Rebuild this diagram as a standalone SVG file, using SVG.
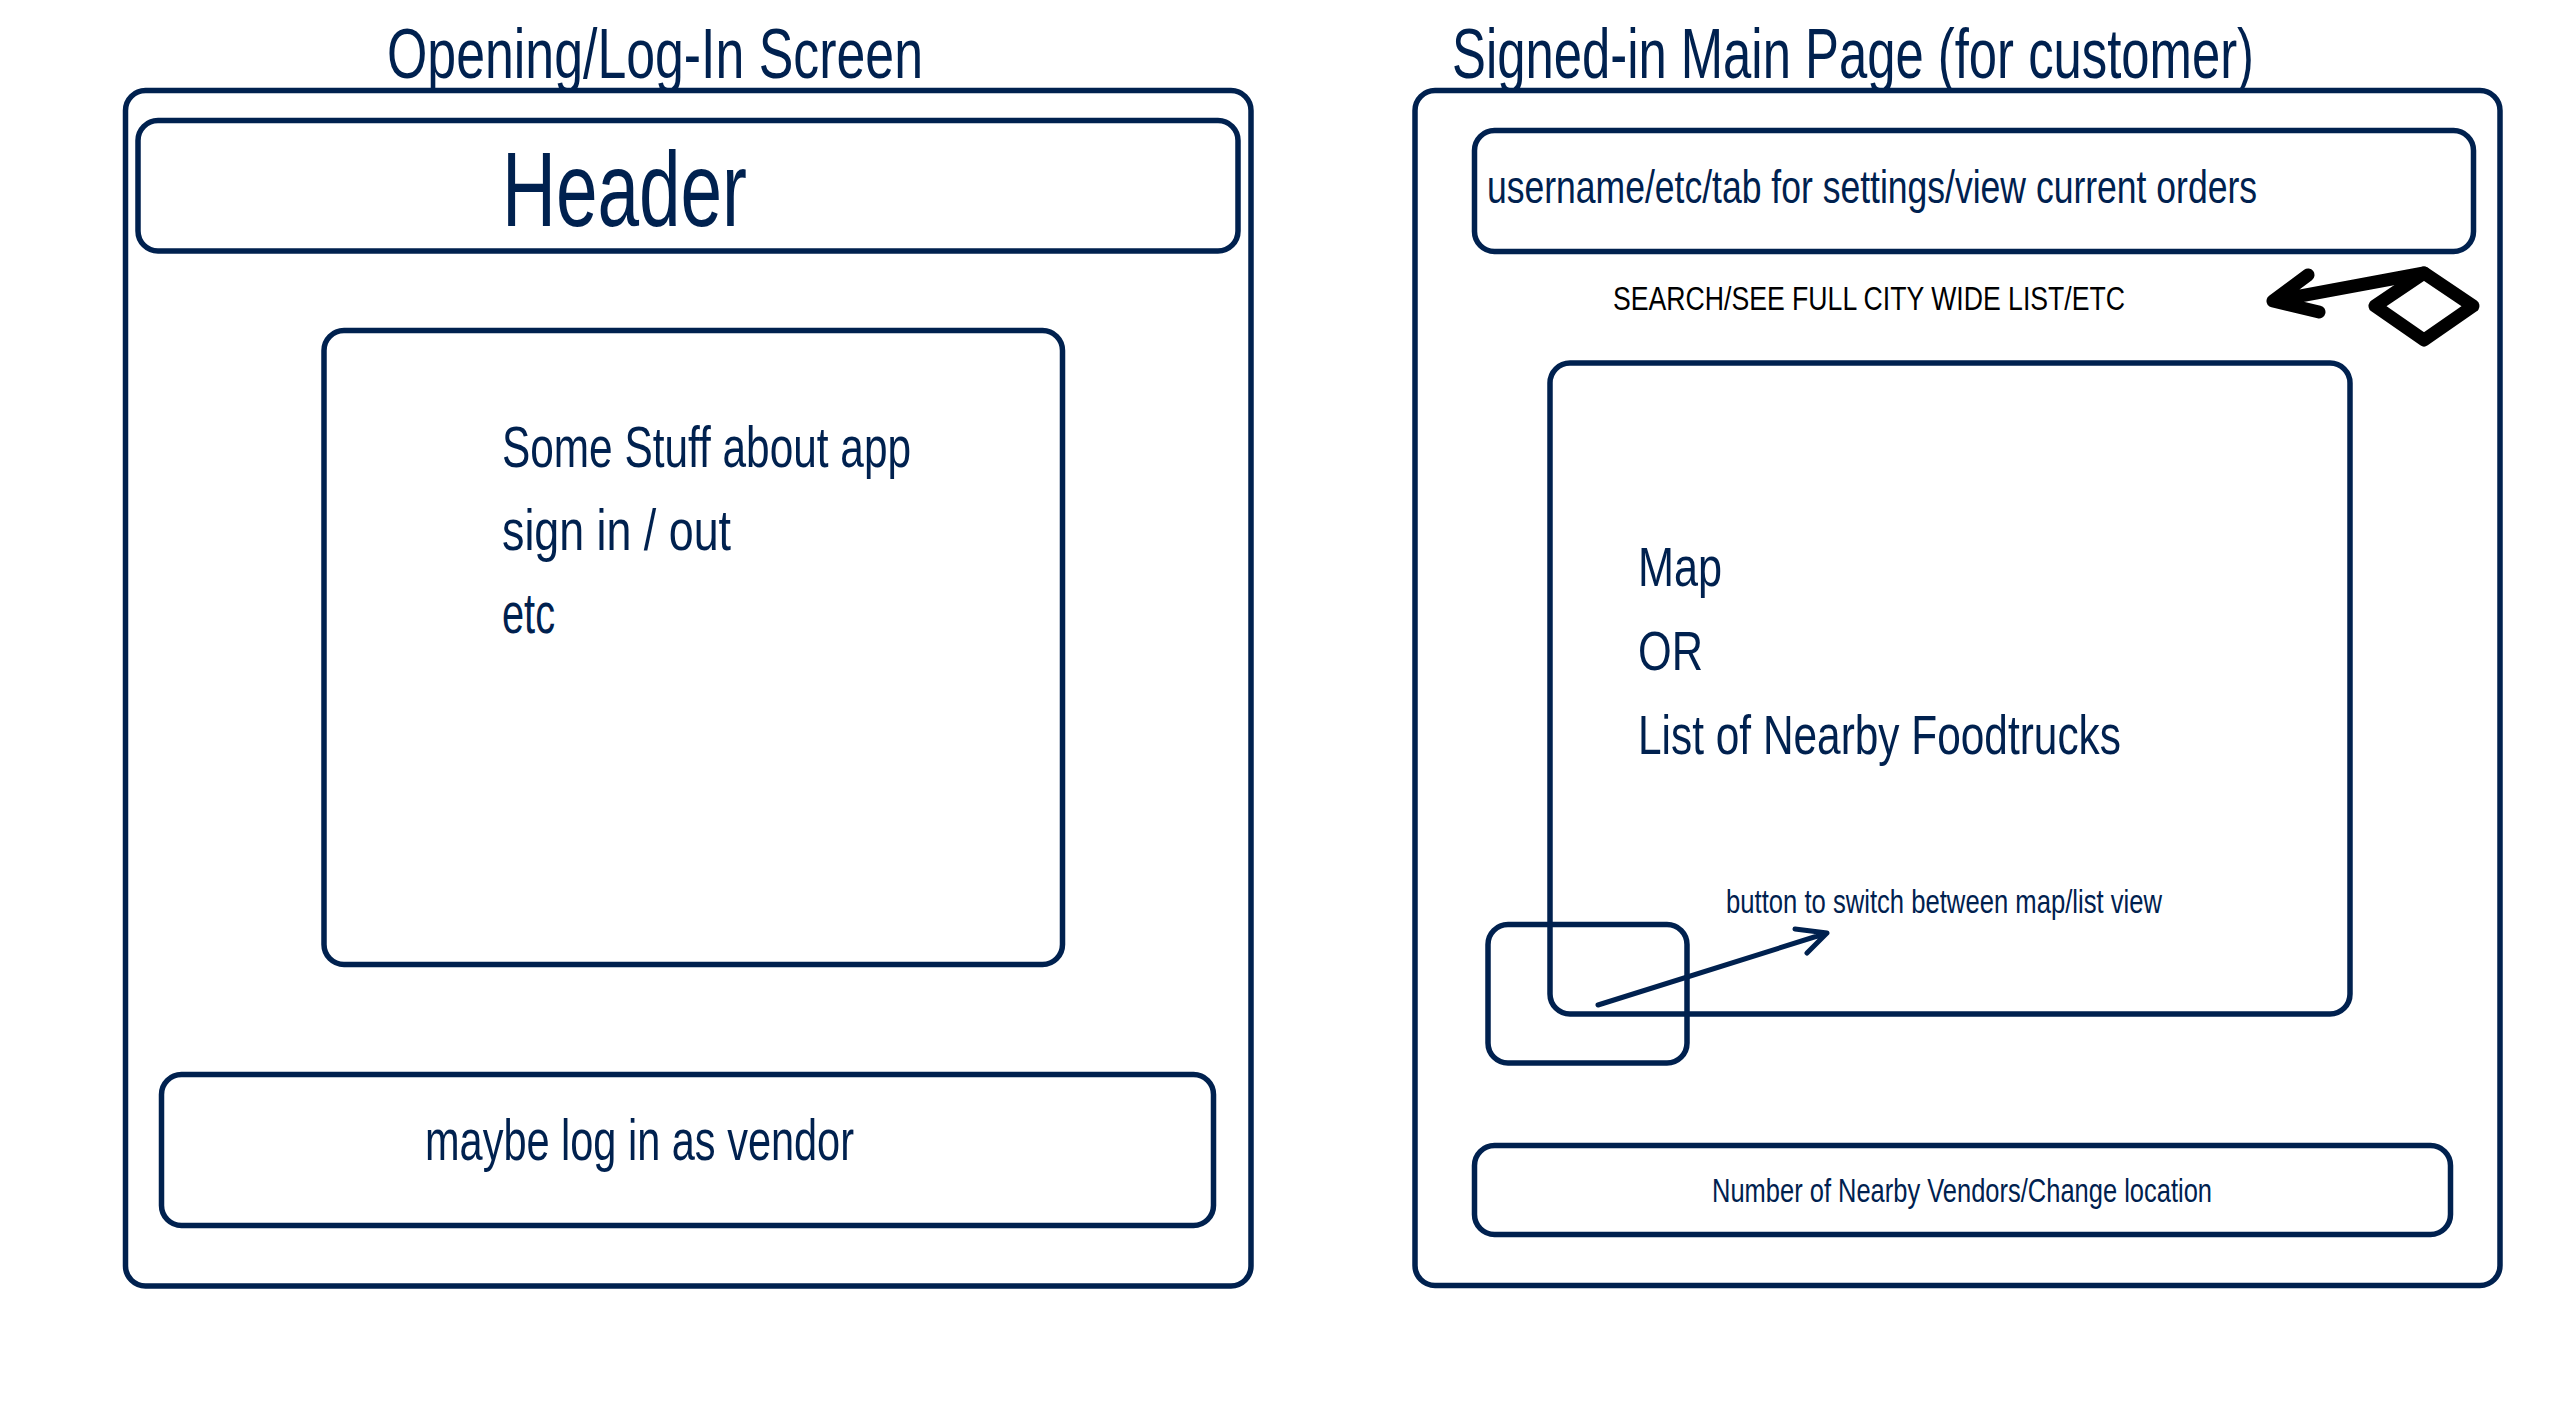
<svg xmlns="http://www.w3.org/2000/svg" width="2560" height="1402" viewBox="0 0 2560 1402">
<style>
.box{fill:none;stroke:#00214f;stroke-width:5.5}
.t{font-family:"Liberation Sans",Arial,sans-serif;fill:#00214f}
.blk{fill:#000}
.arr{fill:none;stroke-linecap:round;stroke-linejoin:round}
</style>
<rect width="2560" height="1402" fill="#fff"/>
<g id="left-screen">
  <text class="t" x="387" y="78" font-size="71" textLength="536" lengthAdjust="spacingAndGlyphs">Opening/Log-In Screen</text>
  <rect class="box" x="125.5" y="90.5" width="1125.5" height="1195.5" rx="20"/>
</g>
<g id="left-header">
  <rect class="box" x="138" y="120.5" width="1100" height="130.5" rx="20"/>
  <text class="t" x="502" y="226" font-size="106" textLength="245" lengthAdjust="spacingAndGlyphs">Header</text>
</g>
<g id="left-content">
  <rect class="box" x="324" y="330.5" width="738.5" height="634" rx="20"/>
  <text class="t" x="502" y="467" font-size="58" textLength="409" lengthAdjust="spacingAndGlyphs">Some Stuff about app</text>
  <text class="t" x="502" y="550" font-size="58" textLength="229" lengthAdjust="spacingAndGlyphs">sign in / out</text>
  <text class="t" x="502" y="633" font-size="58" textLength="53" lengthAdjust="spacingAndGlyphs">etc</text>
</g>
<g id="left-vendor">
  <rect class="box" x="161.5" y="1074.5" width="1052" height="151" rx="20"/>
  <text class="t" x="425" y="1160" font-size="58" textLength="429" lengthAdjust="spacingAndGlyphs">maybe log in as vendor</text>
</g>
<g id="right-screen">
  <text class="t" x="1452" y="78" font-size="71" textLength="802" lengthAdjust="spacingAndGlyphs">Signed-in Main Page (for customer)</text>
  <rect class="box" x="1415" y="90.5" width="1085" height="1195" rx="20"/>
</g>
<g id="right-header">
  <rect class="box" x="1474.5" y="130.5" width="999" height="121" rx="20"/>
  <text class="t" x="1487" y="203" font-size="46" textLength="770" lengthAdjust="spacingAndGlyphs">username/etc/tab for settings/view current orders</text>
</g>
<g id="search">
  <text class="t blk" x="1613" y="310" font-size="34" textLength="512" lengthAdjust="spacingAndGlyphs">SEARCH/SEE FULL CITY WIDE LIST/ETC</text>
  <polygon points="2424,273 2473,306 2424,340 2375,306" fill="none" stroke="#000" stroke-width="13" stroke-linejoin="round"/>
</g>
<g id="map-list">
  <rect class="box" x="1550" y="363" width="800" height="651" rx="20"/>
  <text class="t" x="1638" y="586" font-size="56" textLength="84" lengthAdjust="spacingAndGlyphs">Map</text>
  <text class="t" x="1638" y="670" font-size="56" textLength="65" lengthAdjust="spacingAndGlyphs">OR</text>
  <text class="t" x="1638" y="754" font-size="56" textLength="483" lengthAdjust="spacingAndGlyphs">List of Nearby Foodtrucks</text>
</g>
<g id="toggle-button">
  <rect class="box" x="1488" y="924.5" width="199" height="138.5" rx="20"/>
  <text class="t" x="1726" y="913" font-size="33" textLength="436" lengthAdjust="spacingAndGlyphs">button to switch between map/list view</text>
</g>
<g id="right-vendors">
  <rect class="box" x="1474.5" y="1145.5" width="976" height="89" rx="20"/>
  <text class="t" x="1712" y="1202" font-size="34" textLength="500" lengthAdjust="spacingAndGlyphs">Number of Nearby Vendors/Change location</text>
</g>
<g id="connectors">
  <path class="arr" d="M2424,273 L2273,301 M2308,275 L2273,301 L2319,312" stroke="#000" stroke-width="13"/>
  <path class="arr" d="M1598,1005 L1827,933 M1795,929 L1827,933 L1807,953" stroke="#00214f" stroke-width="5"/>
</g>
</svg>
